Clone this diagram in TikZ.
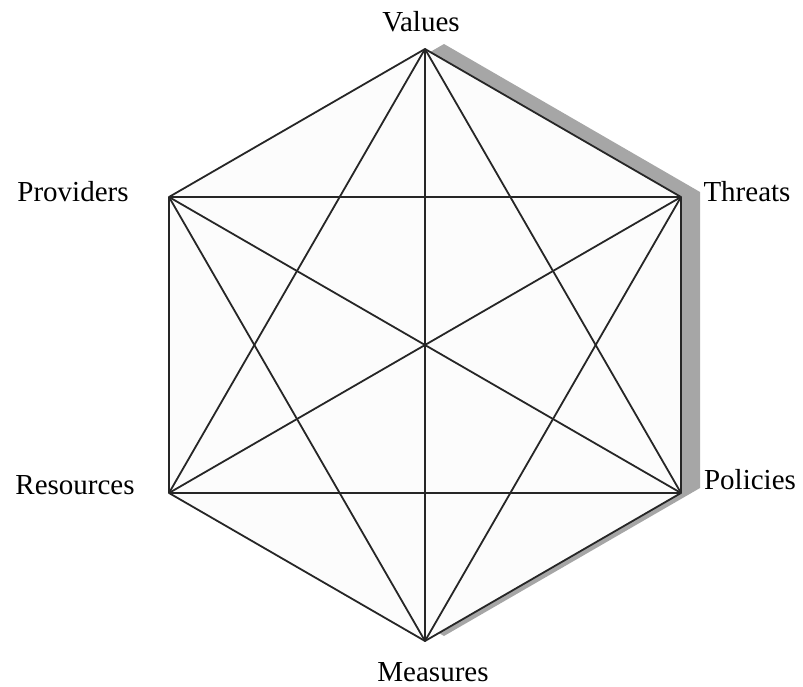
\documentclass[tikz,border=0pt]{standalone}
\usepackage{fontspec}
\setmainfont{Liberation Serif}
\usepackage{xcolor}
\usetikzlibrary{calc}
\definecolor{shadowgrey}{HTML}{A6A6A6}
\definecolor{hexfill}{HTML}{FCFCFC}
\tikzset{
  hexlabel/.style={inner sep=0pt, font=\fontsize{29}{34}\selectfont},
  hexline/.style={draw=black!85, line width=1.8pt, line join=round},
  hexshadow/.style={fill=shadowgrey, shift={(19,-5)}}
}
\begin{document}
\begin{tikzpicture}[x=1pt,y=-1pt]
\useasboundingbox (0,0) rectangle (803,687);

% Corners of the hexagon
\coordinate (val) at (425,49);
\coordinate (thr) at (681,197);
\coordinate (pol) at (681,493);
\coordinate (mea) at (425,641);
\coordinate (res) at (169,493);
\coordinate (pro) at (169,197);

% Shadow behind, then the face
\fill[hexshadow] (425,49) -- (681,197) -- (681,493) -- (425,641) -- (169,493) -- (169,197) -- cycle;
\fill[hexfill] (val) -- (thr) -- (pol) -- (mea) -- (res) -- (pro) -- cycle;

% Labels
\node[hexlabel] (lval) at (421,22) {Values};
\node[hexlabel] (lthr) at (747,192) {Threats};
\node[hexlabel] (lpol) at (750,480) {Policies};
\node[hexlabel] (lmea) at (433,672) {Measures};
\node[hexlabel] (lres) at (75,485) {Resources};
\node[hexlabel] (lpro) at (73,192) {Providers};

% Outline
\draw[hexline] (val) -- (thr) -- (pol) -- (mea) -- (res) -- (pro) -- cycle;

% Diagonals
\draw[hexline] (val) -- (pol);
\draw[hexline] (val) -- (mea);
\draw[hexline] (val) -- (res);
\draw[hexline] (thr) -- (mea);
\draw[hexline] (thr) -- (res);
\draw[hexline] (thr) -- (pro);
\draw[hexline] (pol) -- (res);
\draw[hexline] (pol) -- (pro);
\draw[hexline] (mea) -- (pro);
\end{tikzpicture}
\end{document}
